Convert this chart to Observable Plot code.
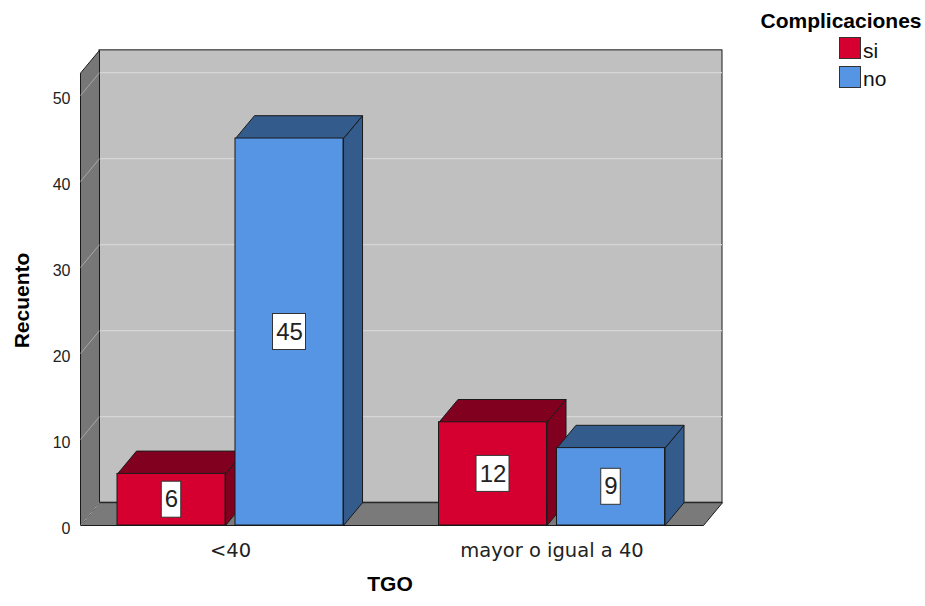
<!DOCTYPE html>
<html>
<head>
<meta charset="utf-8">
<script src="https://cdn.jsdelivr.net/npm/d3@7"></script>
<script src="https://cdn.jsdelivr.net/npm/@observablehq/plot@0.6"></script>
<style>
  body { margin: 0; background: #fff; font-family: "Liberation Sans", Arial, sans-serif; }
  #wrap { position: relative; width: 925px; height: 606px; overflow: hidden; }
  #wrap svg { position: absolute; left: 0; top: 0; }
  .lg-title { position: absolute; left: 740px; top: 10px; width: 202px; text-align: center;
              font: bold 21px/21px "Liberation Sans", Arial, sans-serif; color: #000; }
  .lg-swatch { position: absolute; left: 839px; width: 20px; height: 20px; border: 1px solid #333; }
  .lg-label { position: absolute; left: 863px; font: 21px/21px "Liberation Sans", Arial, sans-serif; color: #111; }
</style>
</head>
<body>
<div id="wrap"></div>
<script>
// Recuento de pacientes por nivel de TGO y presencia de complicaciones
const categories = ["<40", "mayor o igual a 40"];
const series = ["si", "no"];
const siCounts = [6, 12];
const noCounts = [45, 9];
const yTicks = [0, 10, 20, 30, 40, 50];
const legendTitle = "Complicaciones";
const xTitle = "TGO";
const yTitle = "Recuento";

// Colores: cara frontal y caras superior/lateral de cada serie
const frontColor = { si: "#d5002f", no: "#5595e4" };
const shadeColor = { si: "#82001f", no: "#335b8c" };

// Geometría del gráfico
const W = 925, H = 606;
const margin = { top: 95, right: 222, bottom: 81, left: 80 };
const xDomain = [-0.4666, 1.4712];
const yDomain = [0, 50];
const yTop = 52.6;              // altura de las paredes
const barWidth = 0.336, barGap = 0.031;
const kx = (W - margin.left - margin.right) / (xDomain[1] - xDomain[0]);
const ky = (H - margin.top - margin.bottom) / (yDomain[1] - yDomain[0]);
const dX = 19 / kx, dY = 22.8 / ky;   // profundidad en unidades de datos
const xL = xDomain[0], xR = xDomain[1];

const counts = { si: siCounts, no: noCounts };
const bars = categories.flatMap((cat, i) =>
  series.map((s, j) => {
    const x1 = i - (2 * barWidth + barGap) / 2 + j * (barWidth + barGap);
    return { cat, s, value: counts[s][i], x1, x2: x1 + barWidth, cx: x1 + barWidth / 2 };
  })
);

function poly(id, fill, pts) {
  return pts.concat([pts[0]]).map(([x, y]) => ({ id, fill, x, y }));
}

// Caras superior y lateral de las barras
const barFaces = bars.flatMap((b, k) => [
  ...poly("side" + k, shadeColor[b.s], [[b.x2, 0], [b.x2 + dX, dY], [b.x2 + dX, b.value + dY], [b.x2, b.value]]),
  ...poly("top" + k, shadeColor[b.s], [[b.x1, b.value], [b.x2, b.value], [b.x2 + dX, b.value + dY], [b.x1 + dX, b.value + dY]])
]);

const leftWall = poly("left", "#777777", [[xL, 0], [xL + dX, dY], [xL + dX, yTop + dY], [xL, yTop]]);
const floor = poly("floor", "#7a7a7a", [[xL, 0], [xR, 0], [xR + dX, dY], [xL + dX, dY]]);
const backWall = [{ x1: xL + dX, x2: xR + dX, y1: dY, y2: yTop + dY }];

const boxHalf = (v) => (String(v).length * 13.5 + 6) / 2 / kx;
const boxHalfH = 18 / ky;

const chart = Plot.plot({
  width: W,
  height: H,
  marginTop: margin.top,
  marginRight: margin.right,
  marginBottom: margin.bottom,
  marginLeft: margin.left,
  x: { domain: xDomain, axis: null },
  y: { domain: yDomain, axis: null },
  color: { type: "identity" },
  style: { fontFamily: "'Liberation Sans', Arial, sans-serif", background: "transparent", overflow: "visible" },
  marks: [
    // pared del fondo y líneas de cuadrícula
    Plot.rect(backWall, { x1: "x1", x2: "x2", y1: "y1", y2: "y2", fill: "#c0c0c0", stroke: "#1a1a1a" }),
    Plot.ruleY(yTicks.filter((t) => t > 0), { y: (t) => t + dY, x1: () => xL + dX, x2: () => xR + dX, stroke: "#d6d6d6", strokeWidth: 1.2 }),
    // suelo y pared lateral
    Plot.line(floor, { x: "x", y: "y", z: "id", fill: "fill", stroke: "#1a1a1a", strokeWidth: 1 }),
    Plot.line(leftWall, { x: "x", y: "y", z: "id", fill: "fill", stroke: "#1a1a1a", strokeWidth: 1 }),
    Plot.link(yTicks, { x1: () => xL, y1: (t) => t, x2: () => xL + dX, y2: (t) => t + dY, stroke: "#a8a8a8", strokeWidth: 1 }),
    // barras
    Plot.line(barFaces, { x: "x", y: "y", z: "id", fill: "fill", stroke: "#1a1a1a", strokeWidth: 1, strokeLinejoin: "miter" }),
    Plot.rect(bars, { x1: "x1", x2: "x2", y1: () => 0, y2: "value", fill: (d) => frontColor[d.s], stroke: "#1a1a1a", strokeWidth: 1 }),
    // etiquetas de valor
    Plot.rect(bars, {
      x1: (d) => d.cx - boxHalf(d.value), x2: (d) => d.cx + boxHalf(d.value),
      y1: (d) => d.value / 2 - boxHalfH, y2: (d) => d.value / 2 + boxHalfH,
      fill: "white", stroke: "#333", strokeWidth: 1
    }),
    Plot.text(bars, { x: "cx", y: (d) => d.value / 2, text: (d) => String(d.value), fontSize: 24, fill: "#222" }),
    // ejes
    Plot.axisY(yTicks, { anchor: "left", tickSize: 0, tickPadding: 10, fontSize: 16, dy: 3, label: null, fill: "#222" }),
    Plot.axisX([0, 1], {
      anchor: "bottom", tickSize: 0, tickPadding: 18, fontSize: 19.5, label: null,
      tickFormat: (i) => categories[i], fontFamily: "'DejaVu Sans', sans-serif", fill: "#222"
    }),
    Plot.text([yTitle], { frameAnchor: "left", textAnchor: "middle", lineAnchor: "middle", rotate: -90, dx: -58, dy: -10, fontSize: 21, fontWeight: "bold", fill: "#000" }),
    Plot.text([xTitle], { frameAnchor: "bottom", textAnchor: "middle", lineAnchor: "middle", dx: -2, dy: 59, fontSize: 21, fontWeight: "bold", fill: "#000" })
  ]
});

const wrap = document.getElementById("wrap");
wrap.appendChild(chart);

// Leyenda
const title = document.createElement("div");
title.className = "lg-title";
title.textContent = legendTitle;
wrap.appendChild(title);
series.forEach((s, i) => {
  const sw = document.createElement("div");
  sw.className = "lg-swatch";
  sw.style.top = (37 + i * 29) + "px";
  sw.style.background = frontColor[s];
  wrap.appendChild(sw);
  const lb = document.createElement("div");
  lb.className = "lg-label";
  lb.style.top = (40 + i * 28) + "px";
  lb.textContent = s;
  wrap.appendChild(lb);
});
</script>
</body>
</html>
